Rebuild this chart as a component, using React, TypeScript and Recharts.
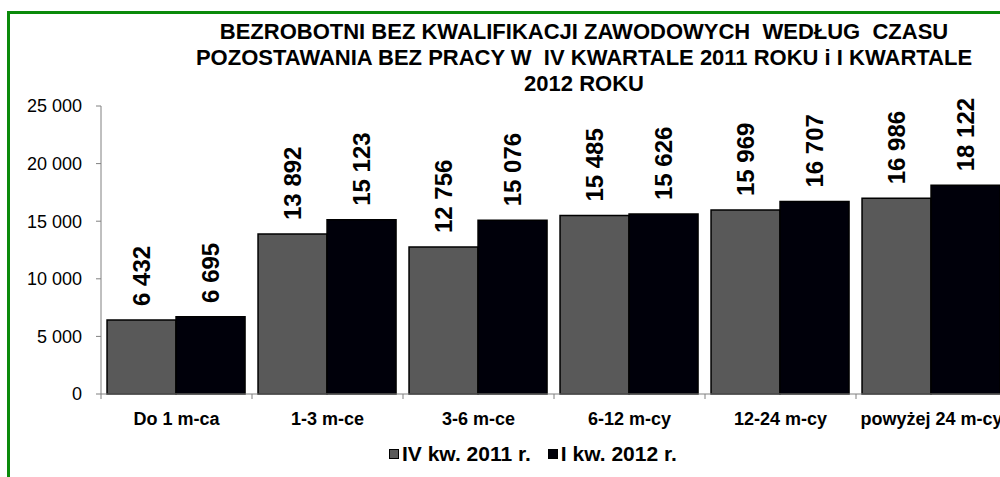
import { BarChart, Bar, XAxis, YAxis, LabelList } from 'recharts';

const categories = ['Do 1 m-ca', '1-3 m-ce', '3-6 m-ce', '6-12 m-cy', '12-24 m-cy', 'powyżej 24 m-cy'];
const q4of2011 = [6432, 13892, 12756, 15485, 15969, 16986];
const q1of2012 = [6695, 15123, 15076, 15626, 16707, 18122];
const yTicks = [0, 5000, 10000, 15000, 20000, 25000];
const seriesNames = ['IV kw. 2011 r.', 'I kw. 2012 r.'];
const titleLines = [
  'BEZROBOTNI BEZ KWALIFIKACJI ZAWODOWYCH  WEDŁUG  CZASU',
  'POZOSTAWANIA BEZ PRACY W  IV KWARTALE 2011 ROKU i I KWARTALE',
  '2012 ROKU',
];

const data = categories.map((name, i) => ({ name, a: q4of2011[i], b: q1of2012[i] }));

const FONT = '"Liberation Sans", Arial, sans-serif';
const GRAY = '#595959';
const BLACK = '#00000a';

const fmt = (v: number) => String(v).replace(/\B(?=(\d{3})+(?!\d))/g, ' ');

const BarLabel = (props: any) => {
  const { x, y, width, value } = props;
  const cx = Number(x) + Number(width) / 2;
  const ty = Number(y) - 14;
  return (
    <text
      x={cx}
      y={ty}
      transform={`rotate(-90 ${cx} ${ty})`}
      textAnchor="start"
      dominantBaseline="central"
      fontSize={24}
      fontWeight="bold"
      fontFamily={FONT}
      fill="#000"
    >
      {fmt(value)}
    </text>
  );
};

const XTick = (props: any) => {
  const { x, payload } = props;
  const axisY = 394;
  return (
    <g>
      <line x1={x - 75.5} y1={axisY} x2={x - 75.5} y2={axisY + 5} stroke="#808080" />
      <text x={x} y={axisY + 31} textAnchor="middle" fontSize={18} fontWeight="bold" fontFamily={FONT} fill="#000">
        {payload.value}
      </text>
    </g>
  );
};

export default function App() {
  return (
    <div
      style={{
        position: 'fixed',
        left: 0,
        top: 0,
        width: 1000,
        height: 477,
        overflow: 'hidden',
        background: '#fff',
        fontFamily: FONT,
      }}
    >
      <div
        style={{
          position: 'absolute',
          left: 7,
          top: 11,
          width: 1100,
          height: 600,
          border: '3px solid #0a8a0a',
        }}
      />
      <div
        style={{
          position: 'absolute',
          left: 584 - 450,
          top: 19,
          width: 900,
          textAlign: 'center',
          fontSize: 22,
          fontWeight: 'bold',
          lineHeight: '26px',
          whiteSpace: 'pre',
        }}
      >
        {titleLines.map((t) => (
          <div key={t}>{t}</div>
        ))}
      </div>
      <div style={{ position: 'absolute', left: 0, top: 0 }}>
        <BarChart
          width={1020}
          height={477}
          data={data}
          margin={{ top: 106, right: 13, bottom: 43, left: 0 }}
          barCategoryGap="4%"
          barGap={0}
        >
          <YAxis
            width={101}
            domain={[0, 25000]}
            ticks={yTicks}
            interval={0}
            tickFormatter={fmt}
            tickSize={5}
            tickMargin={14}
            stroke="#808080"
            tick={{ fill: '#000', fontSize: 18, fontFamily: FONT }}
          />
          <XAxis
            dataKey="name"
            height={40}
            interval={0}
            tickLine={false}
            stroke="#808080"
            tick={<XTick />}
          />
          <Bar dataKey="a" name={seriesNames[0]} fill={GRAY} stroke="#000" strokeWidth={1.5} isAnimationActive={false}>
            <LabelList dataKey="a" content={<BarLabel />} />
          </Bar>
          <Bar dataKey="b" name={seriesNames[1]} fill={BLACK} stroke="#000" strokeWidth={1.5} isAnimationActive={false}>
            <LabelList dataKey="b" content={<BarLabel />} />
          </Bar>
        </BarChart>
      </div>
      <div
        style={{
          position: 'absolute',
          left: 389,
          top: 443,
          display: 'flex',
          alignItems: 'center',
          fontSize: 21,
          fontWeight: 'bold',
          lineHeight: '21px',
          whiteSpace: 'pre',
        }}
      >
        {seriesNames.map((n, i) => (
          <div key={n} style={{ display: 'flex', alignItems: 'center', marginRight: 17 }}>
            <span
              style={{
                display: 'inline-block',
                width: 8,
                height: 8,
                background: i === 0 ? GRAY : BLACK,
                border: '1.5px solid #000',
                marginRight: 3,
              }}
            />
            <span>{n}</span>
          </div>
        ))}
      </div>
    </div>
  );
}
